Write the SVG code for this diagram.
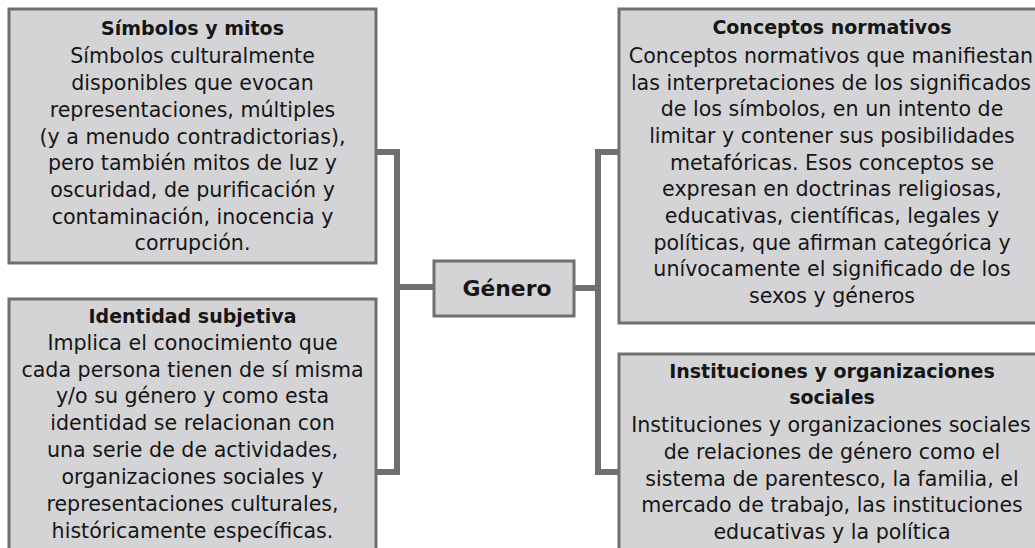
<svg xmlns="http://www.w3.org/2000/svg" width="1035" height="548" viewBox="0 0 1035 548">
<style>
.box{fill:#d4d4d6;stroke:#6f6f6f;stroke-width:3}
.con{fill:none;stroke:#6f6f6f;stroke-width:6}
text{font-family:"DejaVu Sans","Noto Sans",sans-serif;font-size:20.6px;fill:#161616;text-anchor:middle}
.t{font-weight:bold;font-size:19px}
</style>
<rect width="1035" height="548" fill="#ffffff"/>
<g id="connectors">
<path class="con" d="M376,152 H397 V472 H376"/>
<path class="con" d="M397,287 H434"/>
<path class="con" d="M574,288 H598"/>
<path class="con" d="M619,152 H598 V472 H619"/>
</g>
<g id="simbolos">
<rect class="box" x="9" y="9" width="367" height="254"/>
<text x="192.5" y="35" class="t">Símbolos y mitos</text>
<text x="192.5" y="63">Símbolos culturalmente</text>
<text x="192.5" y="90">disponibles que evocan</text>
<text x="192.5" y="117">representaciones, múltiples</text>
<text x="192.5" y="144">(y a menudo contradictorias),</text>
<text x="192.5" y="170">pero también mitos de luz y</text>
<text x="192.5" y="197">oscuridad, de purificación y</text>
<text x="192.5" y="224">contaminación, inocencia y</text>
<text x="192.5" y="250">corrupción.</text>
</g>
<g id="genero">
<rect class="box" x="434" y="261" width="140" height="55"/>
<text x="507" y="296" class="t" style="font-size:21.9px">Género</text>
</g>
<g id="conceptos">
<rect class="box" x="619" y="9" width="430" height="314"/>
<text x="832" y="34" class="t">Conceptos normativos</text>
<text x="831" y="63">Conceptos normativos que manifiestan</text>
<text x="831" y="90">las interpretaciones de los significados</text>
<text x="832" y="116">de los símbolos, en un intento de</text>
<text x="832" y="143">limitar y contener sus posibilidades</text>
<text x="832" y="170">metafóricas. Esos conceptos se</text>
<text x="832" y="196">expresan en doctrinas religiosas,</text>
<text x="832" y="223">educativas, científicas, legales y</text>
<text x="832" y="250">políticas, que afirman categórica y</text>
<text x="832" y="276">unívocamente el significado de los</text>
<text x="832" y="303">sexos y géneros</text>
</g>
<g id="identidad">
<rect class="box" x="9" y="299" width="367" height="260"/>
<text x="192.5" y="323" class="t">Identidad subjetiva</text>
<text x="192.5" y="350">Implica el conocimiento que</text>
<text x="192.5" y="377">cada persona tienen de sí misma</text>
<text x="192.5" y="403">y/o su género y como esta</text>
<text x="192.5" y="430">identidad se relacionan con</text>
<text x="192.5" y="457">una serie de de actividades,</text>
<text x="192.5" y="484">organizaciones sociales y</text>
<text x="192.5" y="511">representaciones culturales,</text>
<text x="192.5" y="538">históricamente específicas.</text>
</g>
<g id="instituciones">
<rect class="box" x="619" y="354" width="430" height="210"/>
<text x="832" y="378" class="t">Instituciones y organizaciones</text>
<text x="832" y="404" class="t">sociales</text>
<text x="831" y="432">Instituciones y organizaciones sociales</text>
<text x="832" y="459">de relaciones de género como el</text>
<text x="832" y="486">sistema de parentesco, la familia, el</text>
<text x="832" y="512">mercado de trabajo, las instituciones</text>
<text x="832" y="539">educativas y la política</text>
</g>
</svg>
